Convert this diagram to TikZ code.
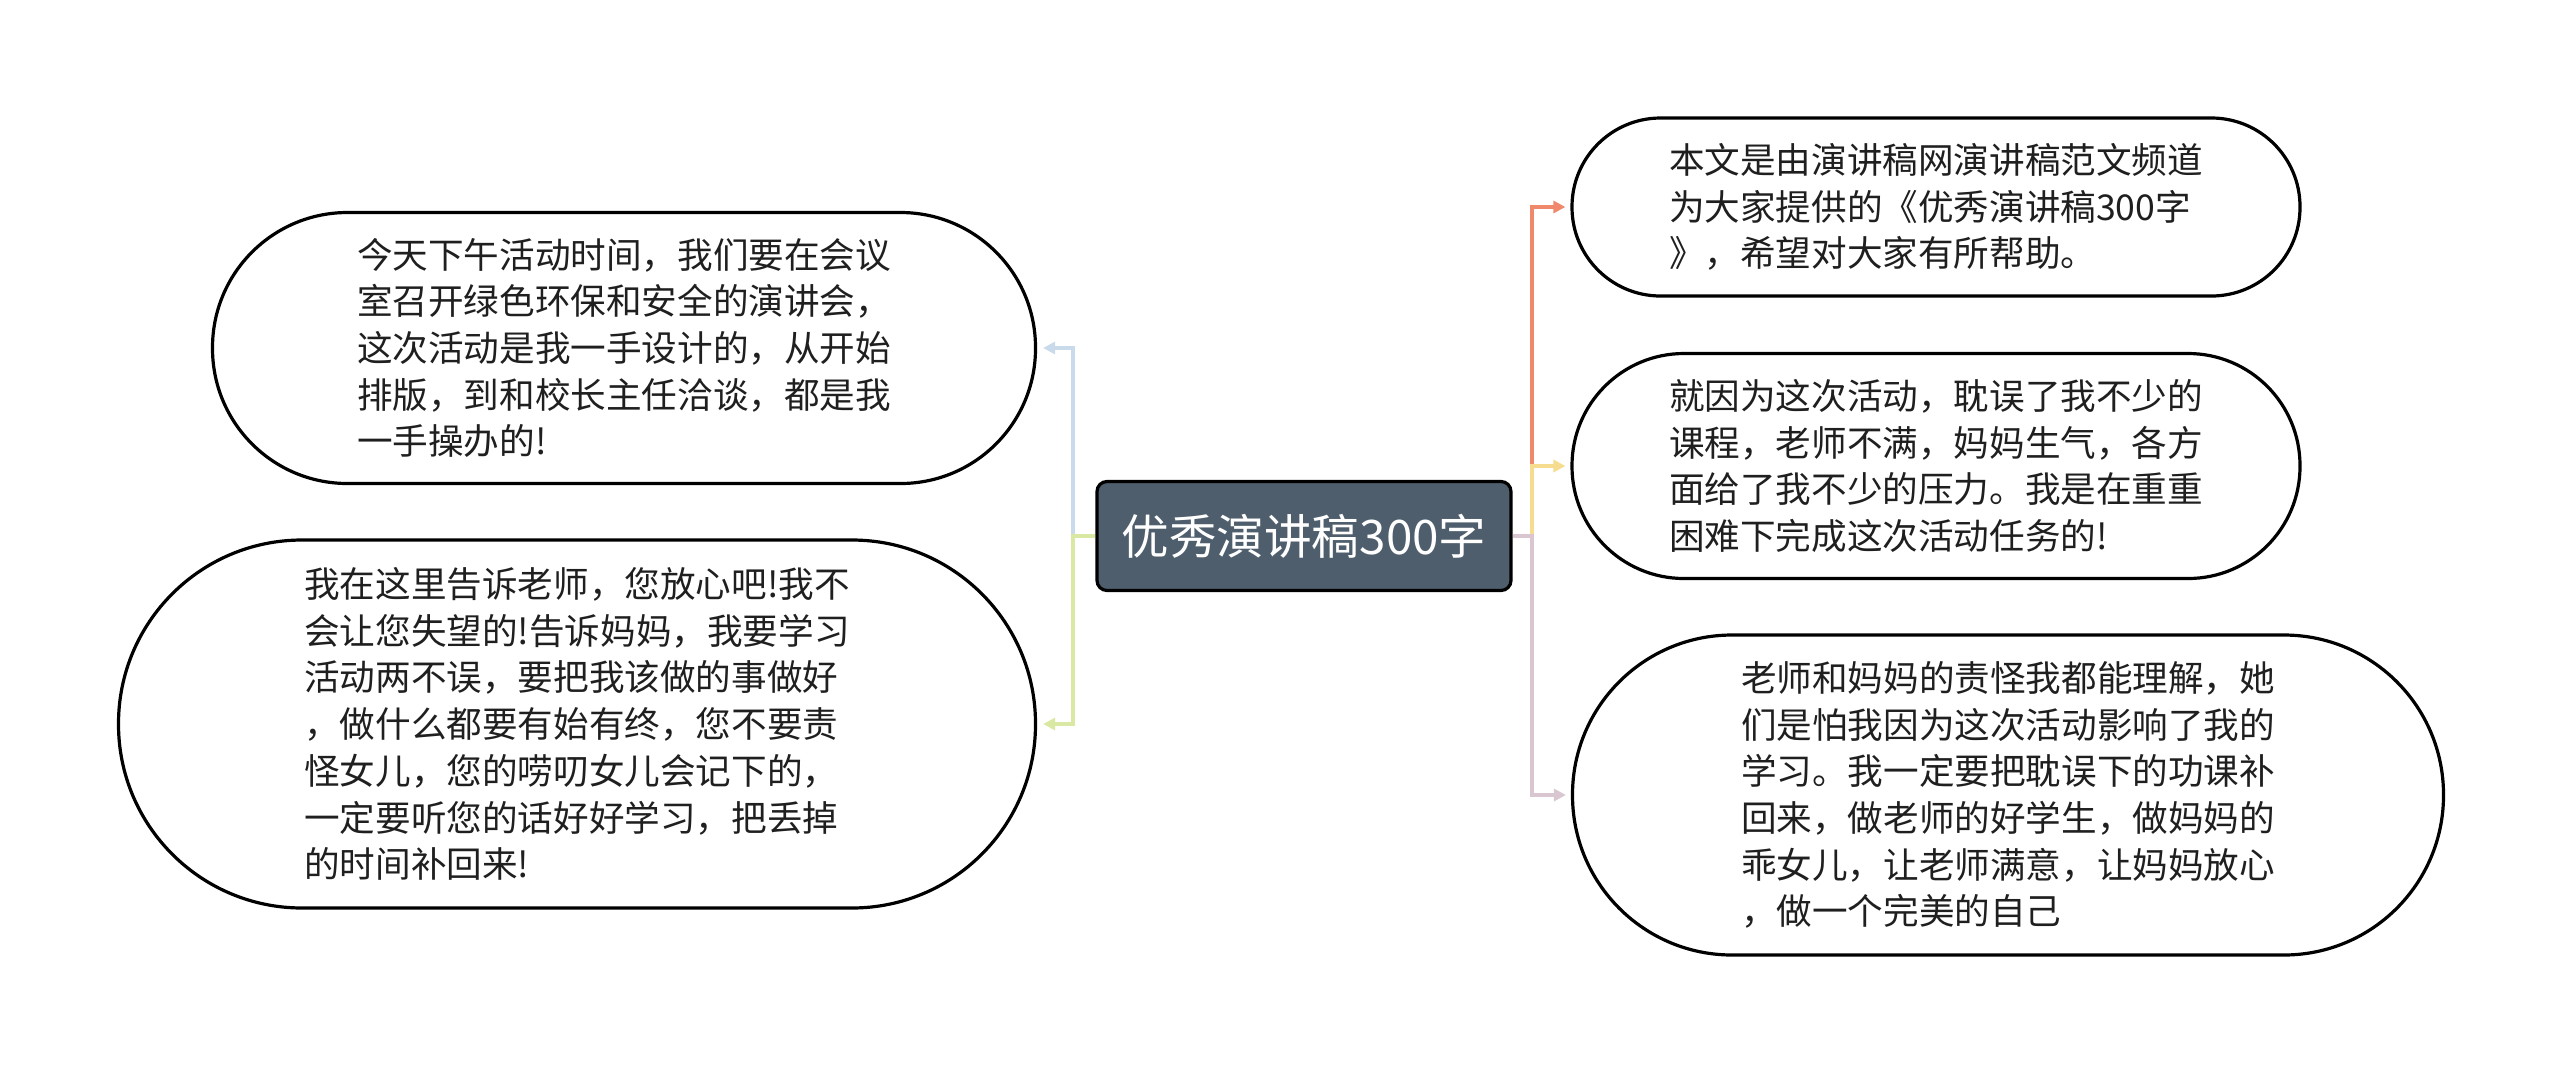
\documentclass[tikz,border=0pt]{standalone}
\usepackage{fontspec}
\newfontfamily\cjk{Noto Sans CJK SC}
\usetikzlibrary{arrows.meta}
\definecolor{centerfill}{HTML}{4E5E6C}
\definecolor{corange}{HTML}{F0896C}
\definecolor{cyellow}{HTML}{F6DC8E}
\definecolor{clav}{HTML}{D9C6D0}
\definecolor{cblue}{HTML}{C9DAEA}
\definecolor{cgreen}{HTML}{D9E8A3}
\tikzset{
  topicbox/.style={draw=black, line width=1.6pt, fill=white, align=left, inner sep=0pt,
    font=\cjk\fontsize{17.8pt}{23.35pt}\selectfont, text=black!88},
  centerbox/.style={draw=black, line width=1.6pt, fill=centerfill, rounded corners=5pt,
    minimum width=207pt, minimum height=54.5pt, inner sep=0pt,
    font=\cjk\fontsize{23.8pt}{28pt}\selectfont, text=white},
  link/.style={line width=1.6pt, -{Triangle[length=6pt,width=6pt]}},
}
\begin{document}
\begin{tikzpicture}[x=0.5pt,y=-0.5pt]
\useasboundingbox (0,0) rectangle (2560,1073);

\node[centerbox] (c) at (1304,536) {优秀演讲稿300字};

\node[topicbox, minimum width=411.5pt, minimum height=135.5pt, rounded corners=67.5pt] (L1) at (624,348)
 {今天下午活动时间，我们要在会议\\室召开绿色环保和安全的演讲会，\\这次活动是我一手设计的，从开始\\排版，到和校长主任洽谈，都是我\\一手操办的!};

\node[topicbox, minimum width=458.5pt, minimum height=184pt, rounded corners=91.8pt] (L2) at (577,724)
 {我在这里告诉老师，您放心吧!我不\\会让您失望的!告诉妈妈，我要学习\\活动两不误，要把我该做的事做好\\，做什么都要有始有终，您不要责\\怪女儿，您的唠叨女儿会记下的，\\一定要听您的话好好学习，把丢掉\\的时间补回来!};

\node[topicbox, minimum width=364pt, minimum height=89pt, rounded corners=44.3pt] (R1) at (1936,207)
 {本文是由演讲稿网演讲稿范文频道\\为大家提供的《优秀演讲稿300字\\》，希望对大家有所帮助。};

\node[topicbox, minimum width=364pt, minimum height=112.5pt, rounded corners=56pt] (R2) at (1936,466)
 {就因为这次活动，耽误了我不少的\\课程，老师不满，妈妈生气，各方\\面给了我不少的压力。我是在重重\\困难下完成这次活动任务的!};

\node[topicbox, minimum width=435.5pt, minimum height=160pt, rounded corners=79.8pt] (R3) at (2008,795)
 {老师和妈妈的责怪我都能理解，她\\们是怕我因为这次活动影响了我的\\学习。我一定要把耽误下的功课补\\回来，做老师的好学生，做妈妈的\\乖女儿，让老师满意，让妈妈放心\\，做一个完美的自己};

\coordinate (lj) at (1073,536);
\coordinate (rj) at (1532,536);

\draw[link, cblue, shorten >=3pt] (c.west) -- (lj) |- (L1.east);
\draw[link, cgreen, shorten >=3pt] (c.west) -- (lj) |- (L2.east);
\draw[link, corange, shorten >=2.5pt] (c.east) -- (rj) |- (R1.west);
\draw[link, cyellow, shorten >=2.5pt] (c.east) -- (rj) |- (R2.west);
\draw[link, clav, shorten >=2.5pt] (c.east) -- (rj) |- (R3.west);
\end{tikzpicture}
\end{document}
